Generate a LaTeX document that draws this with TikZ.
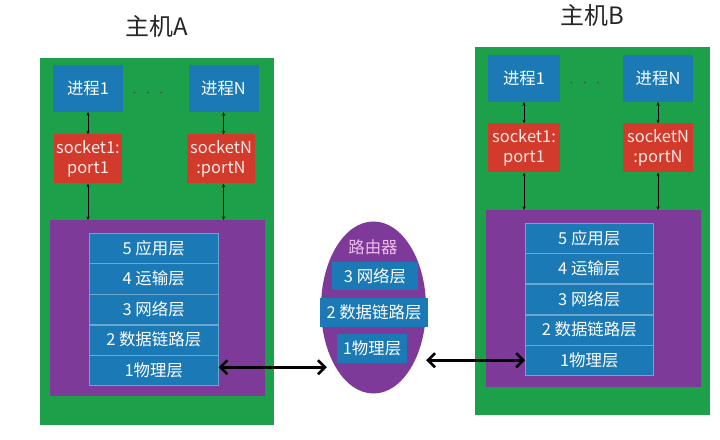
\documentclass[tikz,border=0pt]{standalone}
\usepackage{fontspec}
\setmainfont{Noto Sans CJK SC}
\usepackage{xcolor}
\usepackage{tikz}
\usetikzlibrary{arrows.meta, positioning, calc, shapes.geometric}

\definecolor{lvse}{HTML}{1CA049}
\definecolor{zise}{HTML}{7E3A98}
\definecolor{lanse}{HTML}{1B79B6}
\definecolor{hongse}{HTML}{D23B2B}
\definecolor{fense}{HTML}{EDBDEB}

\begin{document}
\begin{tikzpicture}[
    x=1bp, y=-1bp,
    node distance=0bp,
    zhuji/.style={fill=lvse, anchor=north west, inner sep=0pt},
    xieyi/.style={fill=zise, anchor=north west, inner sep=0pt},
    jincheng/.style={fill=lanse, text=white, minimum width=70bp, minimum height=47bp,
                     inner sep=0pt, font=\fontsize{16.5}{18}\selectfont},
    taojiezi/.style={fill=hongse, text=white!88!hongse, minimum width=68bp, minimum height=49bp,
                     inner sep=0pt, align=center, font=\fontsize{16.5}{19.5}\selectfont},
    ceng/.style={fill=lanse, text=white, draw=lanse!65!white, line width=0.5bp,
                 minimum width=129bp, minimum height=30bp, inner sep=0pt,
                 font=\fontsize{16.5}{18}\selectfont},
    luceng/.style={fill=lanse, text=white, minimum height=28bp, inner sep=0pt,
                   font=\fontsize{16.5}{18}\selectfont},
    biaoti/.style={font=\fontsize{24}{27}\selectfont, text=black!85},
    diandian/.style={font=\fontsize{16}{18}\selectfont, text=black!70},
    shuang/.style={{Stealth[length=3.5bp,width=3bp]}-{Stealth[length=3.5bp,width=3bp]}, line width=0.8bp},
    lianjie/.style={{Straight Barb[length=7bp,width=14bp]}-{Straight Barb[length=7bp,width=14bp]}, line width=2.6bp}
  ]
    \useasboundingbox (0,0) rectangle (720,440);

    % host A
    \node[biaoti] (tA) at (157,26) {主机A};
    \node[zhuji, minimum width=234bp, minimum height=367bp] (hA) at (40,58) {};
    \node[jincheng] (pA1) at (88,88.5) {进程1};
    \node[jincheng] (pAN) at (223.5,88.5) {进程N};
    \node[diandian] (dA) at (148,94) {$\cdot\;\cdot\;\cdot$};
    \node[taojiezi] (sA1) at (88,159) {socket1:\\port1};
    \node[taojiezi] (sAN) at (221,159) {socketN\\:portN};
    \node[xieyi, minimum width=215bp, minimum height=176bp] (zA) at (50,220) {};
    \node[ceng, anchor=north west] (a5) at (89,233) {5 应用层};
    \node[ceng, below=of a5] (a4) {4 运输层};
    \node[ceng, below=of a4] (a3) {3 网络层};
    \node[ceng, below=of a3] (a2) {2 数据链路层};
    \node[ceng, below=of a2] (a1) {1物理层};
    \draw[shuang] (pA1) -- (sA1);
    \draw[shuang] (pAN.south) -- (pAN.south |- sAN.north);
    \draw[shuang] (sA1.south) -- (sA1.south |- zA.north);
    \draw[shuang] (pAN.south |- sAN.south) -- (pAN.south |- zA.north);

    % router
    \node[ellipse, fill=zise, minimum width=105bp, minimum height=172bp, inner sep=0pt] (lu) at (373.5,307.5) {};
    \node[text=fense, font=\fontsize{16.5}{18}\selectfont] (luT) at (373,247) {路由器};
    \node[luceng, minimum width=86bp] (r3) at (375,276.5) {3 网络层};
    \node[luceng, minimum width=108bp] (r2) at (374,312.5) {2 数据链路层};
    \node[luceng, minimum width=70bp] (r1) at (372,348.5) {1物理层};

    % host B
    \node[biaoti] (tB) at (592,15) {主机B};
    \node[zhuji, minimum width=235bp, minimum height=368bp] (hB) at (475,47) {};
    \node[jincheng, minimum width=72bp] (pB1) at (524,78.5) {进程1};
    \node[jincheng] (pBN) at (658,78.5) {进程N};
    \node[diandian] (dB) at (585,84) {$\cdot\;\cdot\;\cdot$};
    \node[taojiezi, minimum width=72bp] (sB1) at (524,148) {socket1:\\port1};
    \node[taojiezi, minimum width=70bp] (sBN) at (658,148) {socketN\\:portN};
    \node[xieyi, minimum width=215bp, minimum height=177bp] (zB) at (486,210) {};
    \node[ceng, anchor=north west, minimum width=128bp] (b5) at (525,223) {5 应用层};
    \node[ceng, minimum width=128bp, below=of b5] (b4) {4 运输层};
    \node[ceng, minimum width=128bp, below=of b4] (b3) {3 网络层};
    \node[ceng, minimum width=128bp, below=of b3] (b2) {2 数据链路层};
    \node[ceng, minimum width=128bp, below=of b2] (b1) {1物理层};
    \draw[shuang] (pB1) -- (sB1);
    \draw[shuang] (pBN) -- (sBN);
    \draw[shuang] (sB1.south) -- (sB1.south |- zB.north);
    \draw[shuang] (sBN.south) -- (sBN.south |- zB.north);

    % links
    \coordinate (kA) at ($(a1.east -| lu.west)+(6,-3)$);
    \draw[lianjie] ($(a1.east)+(0,-3)$) -- (kA);
    \draw[lianjie] (lu.east |- b1.west) -- (b1.west);
  \end{tikzpicture}
\end{document}
